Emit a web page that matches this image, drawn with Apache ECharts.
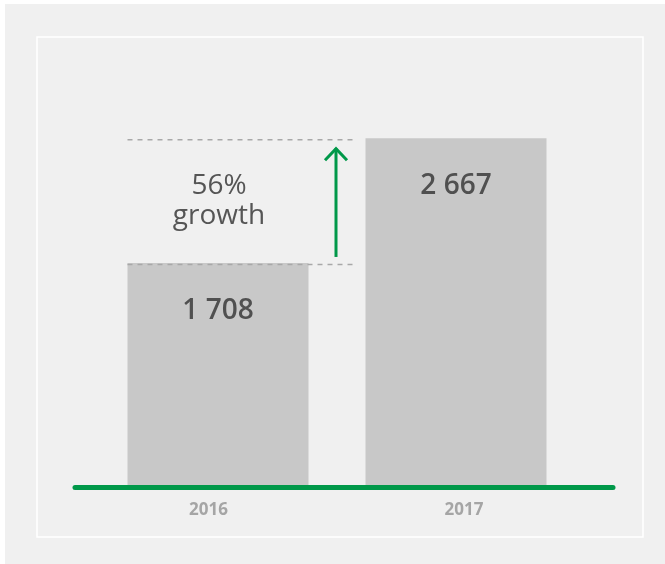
<!DOCTYPE html>
<html>
<head>
<meta charset="utf-8">
<script src="https://cdn.jsdelivr.net/npm/echarts@6/dist/echarts.min.js"></script>
<style>
html,body{margin:0;padding:0;background:#fff;}
#c{width:665px;height:564px;}
</style>
</head>
<body>
<div id="c"></div>
<script>
var categories = ['2016', '2017'];
var values = [1708, 2667];
var growthText = ['56%', 'growth'];

var GREEN = '#009849';
var chart = echarts.init(document.getElementById('c'), null, {renderer: 'canvas'});

function fmt(v) {
  return String(v).replace(/\B(?=(\d{3})+(?!\d))/g, ' ');
}

var BAR_W = 181;

chart.setOption({
  backgroundColor: '#ffffff',
  animation: false,
  grid: [
    {left: 99, right: 90, top: 95, bottom: 79},
    {left: 75, right: 52, top: 95, bottom: 76.5},
    {left: 80.75, right: 73.25, top: 95, bottom: 79}
  ],
  xAxis: [
    {
      type: 'category', gridIndex: 0, data: categories,
      axisLine: {show: false}, axisTick: {show: false}, axisLabel: {show: false}
    },
    {
      type: 'value', gridIndex: 1, min: 0, max: 1, z: 5,
      axisLine: {show: true, lineStyle: {color: GREEN, width: 5, cap: 'round'}},
      axisTick: {show: false}, axisLabel: {show: false}, splitLine: {show: false}
    },
    {
      type: 'category', gridIndex: 2, data: categories,
      axisLine: {show: false}, axisTick: {show: false},
      axisLabel: {margin: 17, color: '#a5a5a5', fontSize: 17, fontWeight: 'bold', fontFamily: 'Open Sans'}
    }
  ],
  yAxis: [
    {type: 'value', gridIndex: 0, min: 0, max: 3000, show: false, splitLine: {show: false}},
    {type: 'value', gridIndex: 1, min: 0, max: 1, show: false, splitLine: {show: false}},
    {type: 'value', gridIndex: 2, min: 0, max: 1, show: false, splitLine: {show: false}}
  ],
  series: [{
    type: 'bar',
    xAxisIndex: 0, yAxisIndex: 0,
    data: values,
    barWidth: BAR_W,
    itemStyle: {color: '#c8c8c8'},
    label: {
      show: true, position: 'insideTop', distance: 34,
      formatter: function (p) { return fmt(p.value); },
      color: '#505050', fontSize: 28, fontWeight: 600, fontFamily: 'Open Sans'
    }
  }]
});

function drawExtras() {
  var c0 = chart.convertToPixel({xAxisIndex: 0}, categories[0]);
  var c1 = chart.convertToPixel({xAxisIndex: 0}, categories[1]);
  var yLow = chart.convertToPixel({yAxisIndex: 0}, values[0]);
  var yHigh = chart.convertToPixel({yAxisIndex: 0}, values[1]);
  var xStart = c0 - BAR_W / 2;
  var xEnd = (c0 + c1) / 2 + 20;
  var ax = (c0 + c1) / 2 - 1;
  var dashStyle = {stroke: '#a8a8a8', lineWidth: 1.5, lineDash: [5, 5]};
  var ymid = (yLow + yHigh) / 2;
  chart.setOption({
    graphic: [
      {type: 'rect', z: -10, silent: true, shape: {x: 5, y: 4, width: 660, height: 560}, style: {fill: '#f0f0f0'}},
      {type: 'rect', z: -9, silent: true, shape: {x: 37, y: 37, width: 606, height: 500}, style: {fill: 'none', stroke: '#ffffff', lineWidth: 1.5}},
      {type: 'line', z: 10, shape: {x1: xStart, y1: yHigh + 1.5, x2: xEnd, y2: yHigh + 1.5}, style: dashStyle},
      {type: 'line', z: 10, shape: {x1: xStart, y1: yLow + 1.5, x2: xEnd, y2: yLow + 1.5}, style: dashStyle},
      {type: 'line', z: 10, shape: {x1: ax, y1: yLow - 6, x2: ax, y2: yHigh + 10}, style: {stroke: GREEN, lineWidth: 3}},
      {type: 'polyline', z: 10, shape: {points: [[ax - 11, yHigh + 22], [ax, yHigh + 10.5], [ax + 11, yHigh + 22]]}, style: {stroke: GREEN, lineWidth: 3, fill: 'none'}},
      {type: 'text', z: 10, x: c0 + 1, y: ymid, style: {
        text: growthText.join('\n'), fill: '#555555', fontSize: 28, fontFamily: 'Open Sans',
        align: 'center', verticalAlign: 'middle', lineHeight: 30
      }}
    ]
  });
}
drawExtras();
</script>
</body>
</html>
